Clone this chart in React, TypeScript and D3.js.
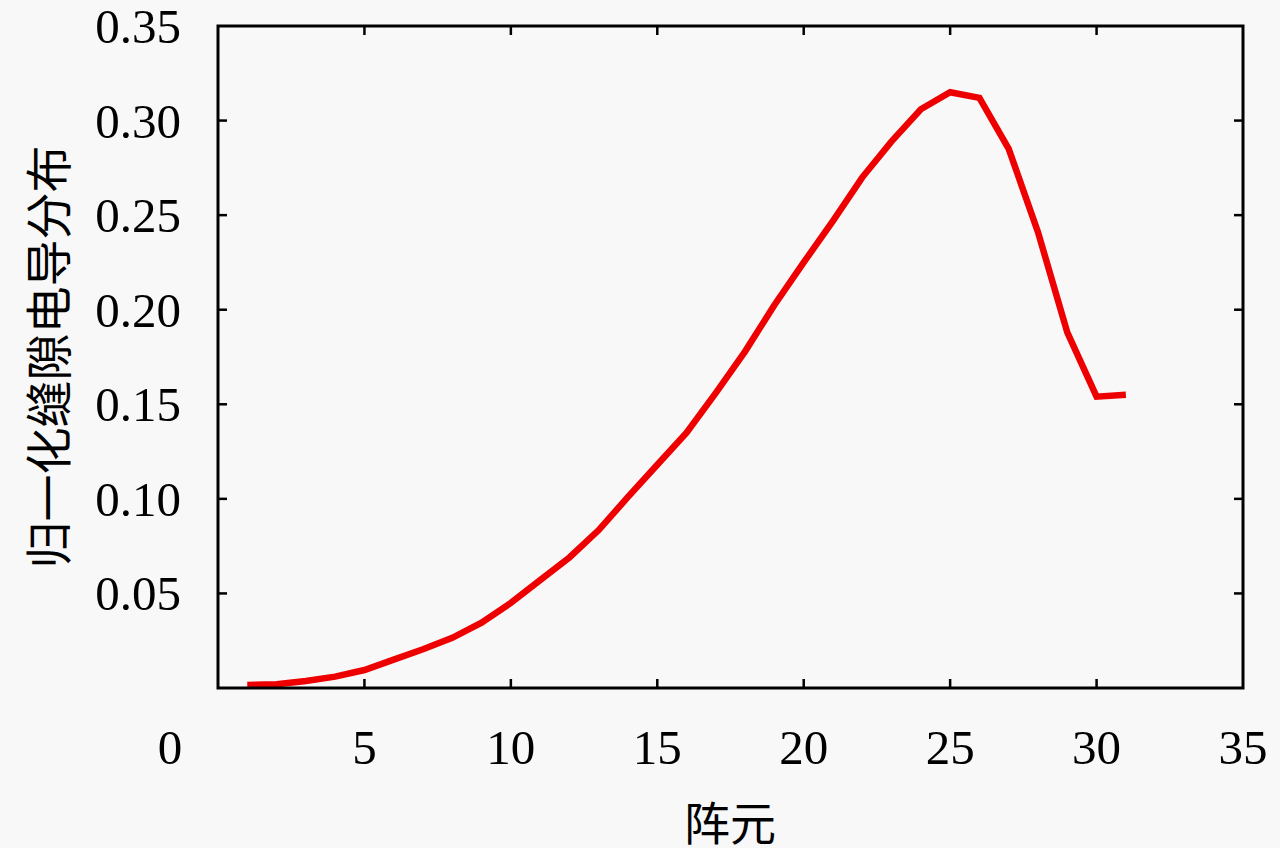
import React, { useEffect, useRef } from "react";
import * as d3 from "d3";

const elements = [
  1, 2, 3, 4, 5, 6, 7, 8, 9, 10, 11, 12, 13, 14, 15, 16, 17, 18, 19, 20, 21,
  22, 23, 24, 25, 26, 27, 28, 29, 30, 31,
];
const conductance = [
  0.0016, 0.002, 0.0037, 0.006, 0.0095, 0.015, 0.0205, 0.0265, 0.0345, 0.045,
  0.057, 0.069, 0.0835, 0.101, 0.118, 0.135, 0.156, 0.178, 0.2025, 0.225,
  0.247, 0.27, 0.289, 0.306, 0.315, 0.312, 0.285, 0.241, 0.188, 0.154, 0.155,
];
const xTicks = [0, 5, 10, 15, 20, 25, 30, 35];
const yTicks = [0.05, 0.1, 0.15, 0.2, 0.25, 0.3, 0.35];
const xTitle = "阵元";
const yTitle = "归一化缝隙电导分布";

const W = 1280;
const H = 848;

export default function App() {
  const ref = useRef<SVGSVGElement>(null);

  useEffect(() => {
    const svg = d3.select(ref.current);
    svg.selectAll("*").remove();

    const m = { left: 218, right: 1243, top: 26, bottom: 688 };
    const x = d3.scaleLinear().domain([0, 35]).range([m.left, m.right]);
    const y = d3.scaleLinear().domain([0, 0.35]).range([m.bottom, m.top]);

    svg.append("rect").attr("width", W).attr("height", H).attr("fill", "#f8f8f8");

    const serif = "'Liberation Serif', 'DejaVu Serif', serif";
    const cjk = "'Noto Sans CJK SC', sans-serif";
    const tick = 9;

    // inward ticks on all four sides
    const g = svg.append("g").attr("stroke", "#000").attr("stroke-width", 2.5);
    xTicks.slice(1, -1).forEach((t) => {
      g.append("line").attr("x1", x(t)).attr("x2", x(t)).attr("y1", m.bottom).attr("y2", m.bottom - tick);
      g.append("line").attr("x1", x(t)).attr("x2", x(t)).attr("y1", m.top).attr("y2", m.top + tick);
    });
    yTicks.slice(0, -1).forEach((t) => {
      g.append("line").attr("x1", m.left).attr("x2", m.left + tick).attr("y1", y(t)).attr("y2", y(t));
      g.append("line").attr("x1", m.right).attr("x2", m.right - tick).attr("y1", y(t)).attr("y2", y(t));
    });

    // data line
    const line = d3
      .line<number>()
      .x((_, i) => x(elements[i]))
      .y((d) => y(d));
    svg
      .append("path")
      .datum(conductance)
      .attr("fill", "none")
      .attr("stroke", "#ee0000")
      .attr("stroke-width", 6.5)
      .attr("stroke-linejoin", "miter")
      .attr("d", line);

    // frame
    svg
      .append("rect")
      .attr("x", m.left)
      .attr("y", m.top)
      .attr("width", m.right - m.left)
      .attr("height", m.bottom - m.top)
      .attr("fill", "none")
      .attr("stroke", "#000")
      .attr("stroke-width", 3);

    // tick labels
    svg
      .selectAll(".xl")
      .data(xTicks)
      .enter()
      .append("text")
      .attr("x", (d) => (d === 0 ? x(d) - 48 : x(d)))
      .attr("y", 764)
      .attr("text-anchor", "middle")
      .attr("font-family", serif)
      .attr("font-size", 49)
      .text((d) => String(d));

    svg
      .selectAll(".yl")
      .data(yTicks)
      .enter()
      .append("text")
      .attr("x", 181)
      .attr("y", (d) => y(d) + 17)
      .attr("text-anchor", "end")
      .attr("font-family", serif)
      .attr("font-size", 49)
      .text((d) => d.toFixed(2));

    // axis titles
    svg
      .append("text")
      .attr("x", 730)
      .attr("y", 840)
      .attr("text-anchor", "middle")
      .attr("font-family", cjk)
      .attr("font-size", 46)
      .text(xTitle);

    svg
      .append("text")
      .attr("transform", "translate(66,357) rotate(-90)")
      .attr("text-anchor", "middle")
      .attr("font-family", cjk)
      .attr("font-size", 47)
      .text(yTitle);
  }, []);

  return (
    <svg
      ref={ref}
      width={W}
      height={H}
      style={{ position: "absolute", left: 0, top: 0, display: "block" }}
    />
  );
}
